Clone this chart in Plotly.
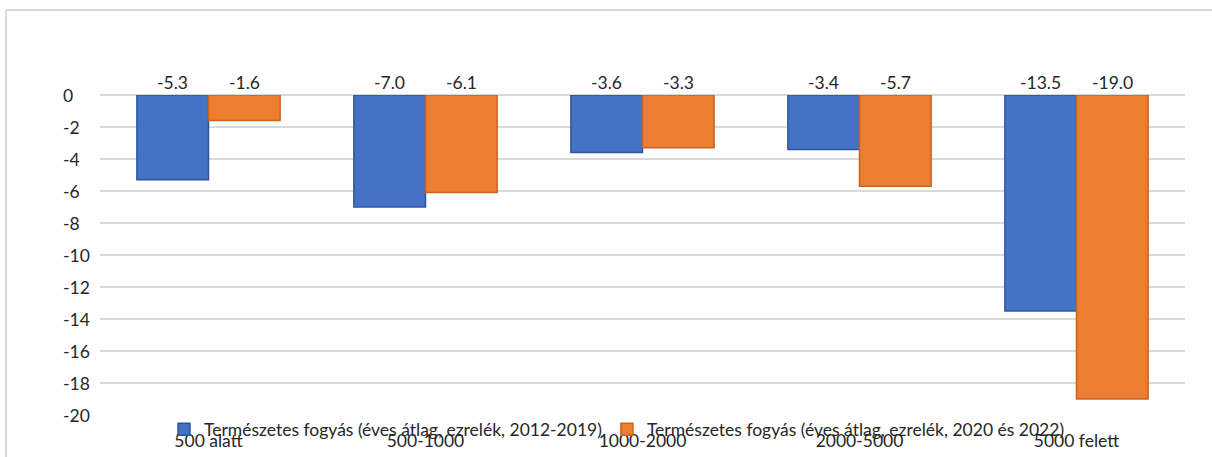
import plotly.graph_objects as go

categories = ["500 alatt", "500-1000", "1000-2000", "2000-5000", "5000 felett"]
series1_name = "Természetes fogyás (éves átlag, ezrelék, 2012-2019)"
series1 = [-5.3, -7.0, -3.6, -3.4, -13.5]
series2_name = "Természetes fogyás (éves átlag, ezrelék, 2020 és 2022)"
series2 = [-1.6, -6.1, -3.3, -5.7, -19.0]
y_ticks = [0, -2, -4, -6, -8, -10, -12, -14, -16, -18, -20]

W, H = 1212, 457
L, R, T, B = 100, 27, 95, 42
pw, ph = W - L - R, H - T - B

FONT = "Lato, Carlito, 'Open Sans', sans-serif"
FS = 17.5
TXT = "#262626"

fig = go.Figure()
fig.add_trace(go.Bar(
    x=categories, y=series1, name=series1_name,
    marker=dict(color="#4472C4", line=dict(color="#2F55A0", width=1.5)),
    offsetgroup="a",
))
fig.add_trace(go.Bar(
    x=categories, y=series2, name=series2_name,
    marker=dict(color="#ED7D31", line=dict(color="#C9641F", width=1.5)),
    offsetgroup="b",
))

# value labels above the zero line
for i, c in enumerate(categories):
    for v, off in ((series1[i], -0.165), (series2[i], 0.165)):
        fig.add_annotation(
            x=i + off, y=0, xref="x", yref="y", text=f"{v:.1f}",
            showarrow=False, yanchor="bottom", yshift=0,
            font=dict(family=FONT, size=FS, color=TXT),
        )

# left-aligned y tick labels
for t in y_ticks:
    fig.add_annotation(
        x=(61 - L) / pw, y=t, xref="paper", yref="y", text=str(t),
        showarrow=False, xanchor="left", yanchor="middle",
        font=dict(family=FONT, size=FS, color=TXT),
    )

# chart frame (top and left border)
x_frame = (6 - L) / pw
y_frame = (H - B - 10) / ph
fig.add_shape(type="line", xref="paper", yref="paper",
              x0=x_frame, x1=(W - L) / pw, y0=y_frame, y1=y_frame,
              line=dict(color="#d9d9d9", width=2))
fig.add_shape(type="line", xref="paper", yref="paper",
              x0=x_frame, x1=x_frame, y0=y_frame, y1=-B / ph,
              line=dict(color="#d9d9d9", width=2))

fig.update_layout(
    width=W, height=H,
    margin=dict(l=L, r=R, t=T, b=B, autoexpand=False),
    paper_bgcolor="white", plot_bgcolor="white",
    barmode="group", bargap=0.34, bargroupgap=0,
    font=dict(family=FONT, size=FS, color=TXT),
    showlegend=True,
    legend=dict(
        orientation="h", x=(164 - L) / pw, xanchor="left",
        y=0.011, yanchor="top",
        font=dict(family=FONT, size=FS, color=TXT),
        bgcolor="rgba(0,0,0,0)", itemwidth=30, tracegroupgap=0,
    ),
    xaxis=dict(
        type="category", showgrid=False, zeroline=False, showline=False,
        ticks="", ticklabelstandoff=13,
        tickfont=dict(family=FONT, size=FS, color=TXT),
    ),
    yaxis=dict(
        range=[-20, 0], tickvals=y_ticks, showticklabels=False,
        showgrid=True, gridcolor="#d9d9d9", gridwidth=1.5,
        zeroline=True, zerolinecolor="#d9d9d9", zerolinewidth=1.5,
        showline=False, ticks="",
    ),
)

fig.write_html("out.html", config={"displayModeBar": False},
               post_script="document.body.style.margin='0px';")
